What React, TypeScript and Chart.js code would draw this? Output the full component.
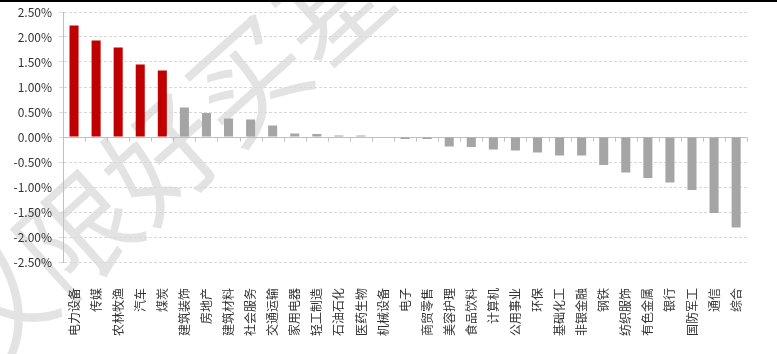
import React, { useEffect, useRef } from "react";
import { Chart, registerables } from "chart.js";

Chart.register(...registerables);

const categories: string[] = [
  "电力设备", "传媒", "农林牧渔", "汽车", "煤炭", "建筑装饰", "房地产", "建筑材料",
  "社会服务", "交通运输", "家用电器", "轻工制造", "石油石化", "医药生物", "机械设备",
  "电子", "商贸零售", "美容护理", "食品饮料", "计算机", "公用事业", "环保", "基础化工",
  "非银金融", "钢铁", "纺织服饰", "有色金属", "银行", "国防军工", "通信", "综合",
];

const returns: number[] = [
  2.23, 1.93, 1.79, 1.45, 1.33, 0.59, 0.48, 0.37,
  0.35, 0.23, 0.07, 0.06, 0.03, 0.03, 0.01,
  -0.04, -0.04, -0.19, -0.20, -0.25, -0.27, -0.31, -0.37,
  -0.37, -0.56, -0.71, -0.82, -0.91, -1.06, -1.52, -1.81,
];

const highlightCount = 5;
const yMin = -2.5;
const yMax = 2.5;
const yStep = 0.5;
const watermarkText = "仅限好买基金";

const RED = "#C00000";
const GRAY = "#A5A5A5";
const FONT = "'Noto Sans CJK SC', 'Noto Sans', sans-serif";

const watermarkPlugin = {
  id: "watermark",
  beforeDraw(chart: any) {
    const ctx = chart.ctx;
    ctx.save();
    ctx.translate(205, 118);
    ctx.rotate((-42 * Math.PI) / 180);
    ctx.font = `115px ${FONT}`;
    ctx.fillStyle = "rgba(0,0,0,0.11)";
    ctx.textAlign = "center";
    ctx.textBaseline = "middle";
    ctx.fillText(watermarkText, 0, 0);
    ctx.restore();
  },
};

const zeroLinePlugin = {
  id: "zeroLine",
  beforeDatasetsDraw(chart: any) {
    const { ctx, chartArea, scales } = chart;
    const x = scales.x;
    const y = scales.y;
    const y0 = Math.round(y.getPixelForValue(0)) + 0.5;
    ctx.save();
    ctx.strokeStyle = "#BFBFBF";
    ctx.lineWidth = 1;
    ctx.beginPath();
    ctx.moveTo(chartArea.left, y0);
    ctx.lineTo(chartArea.right, y0);
    const n = categories.length;
    const w = (x.getPixelForValue(n - 1) - x.getPixelForValue(0)) / (n - 1);
    for (let i = 0; i <= n; i++) {
      const px = Math.round(x.getPixelForValue(0) - w / 2 + i * w) + 0.5;
      ctx.moveTo(px, y0);
      ctx.lineTo(px, y0 + 4);
    }
    ctx.stroke();
    ctx.restore();
  },
};

export default function App() {
  const ref = useRef<HTMLCanvasElement | null>(null);

  useEffect(() => {
    if (!ref.current) return;
    const chart = new Chart(ref.current, {
      type: "bar",
      data: {
        labels: categories,
        datasets: [
          {
            data: returns,
            backgroundColor: returns.map((_, i) => (i < highlightCount ? RED : GRAY)),
            barPercentage: 0.41,
            categoryPercentage: 1,
          },
        ],
      },
      options: {
        animation: false,
        responsive: true,
        maintainAspectRatio: false,
        layout: { padding: { top: 12, right: 29, left: 0, bottom: 0 } },
        plugins: { legend: { display: false }, tooltip: { enabled: false } },
        scales: {
          x: {
            grid: { display: false, drawTicks: false },
            border: { display: false },
            ticks: {
              autoSkip: false,
              minRotation: 90,
              maxRotation: 90,
              padding: 26,
              color: "#333",
              font: { family: FONT, size: 12 },
            },
            afterFit: (s: any) => {
              s.height = 92;
            },
          },
          y: {
            min: yMin,
            max: yMax,
            ticks: {
              stepSize: yStep,
              padding: 7,
              color: "#333",
              font: { family: FONT, size: 12 },
              callback: (v: any) => Number(v).toFixed(2) + "%",
            },
            grid: { color: "#D9D9D9", tickLength: 4, drawTicks: true },
            border: { display: true, color: "#BFBFBF", dash: [3, 2] },
            afterFit: (s: any) => {
              s.width = 63;
              s.paddingTop = 0;
              s.paddingBottom = 0;
            },
          },
        },
      },
      plugins: [watermarkPlugin, zeroLinePlugin],
    });
    return () => chart.destroy();
  }, []);

  return (
    <div style={{ position: "absolute", left: 0, top: 0, width: 777, height: 354, background: "#fff" }}>
      <canvas ref={ref} />
      <div style={{ position: "absolute", left: 0, top: 0, width: 777, height: 2, background: "#000" }} />
    </div>
  );
}
